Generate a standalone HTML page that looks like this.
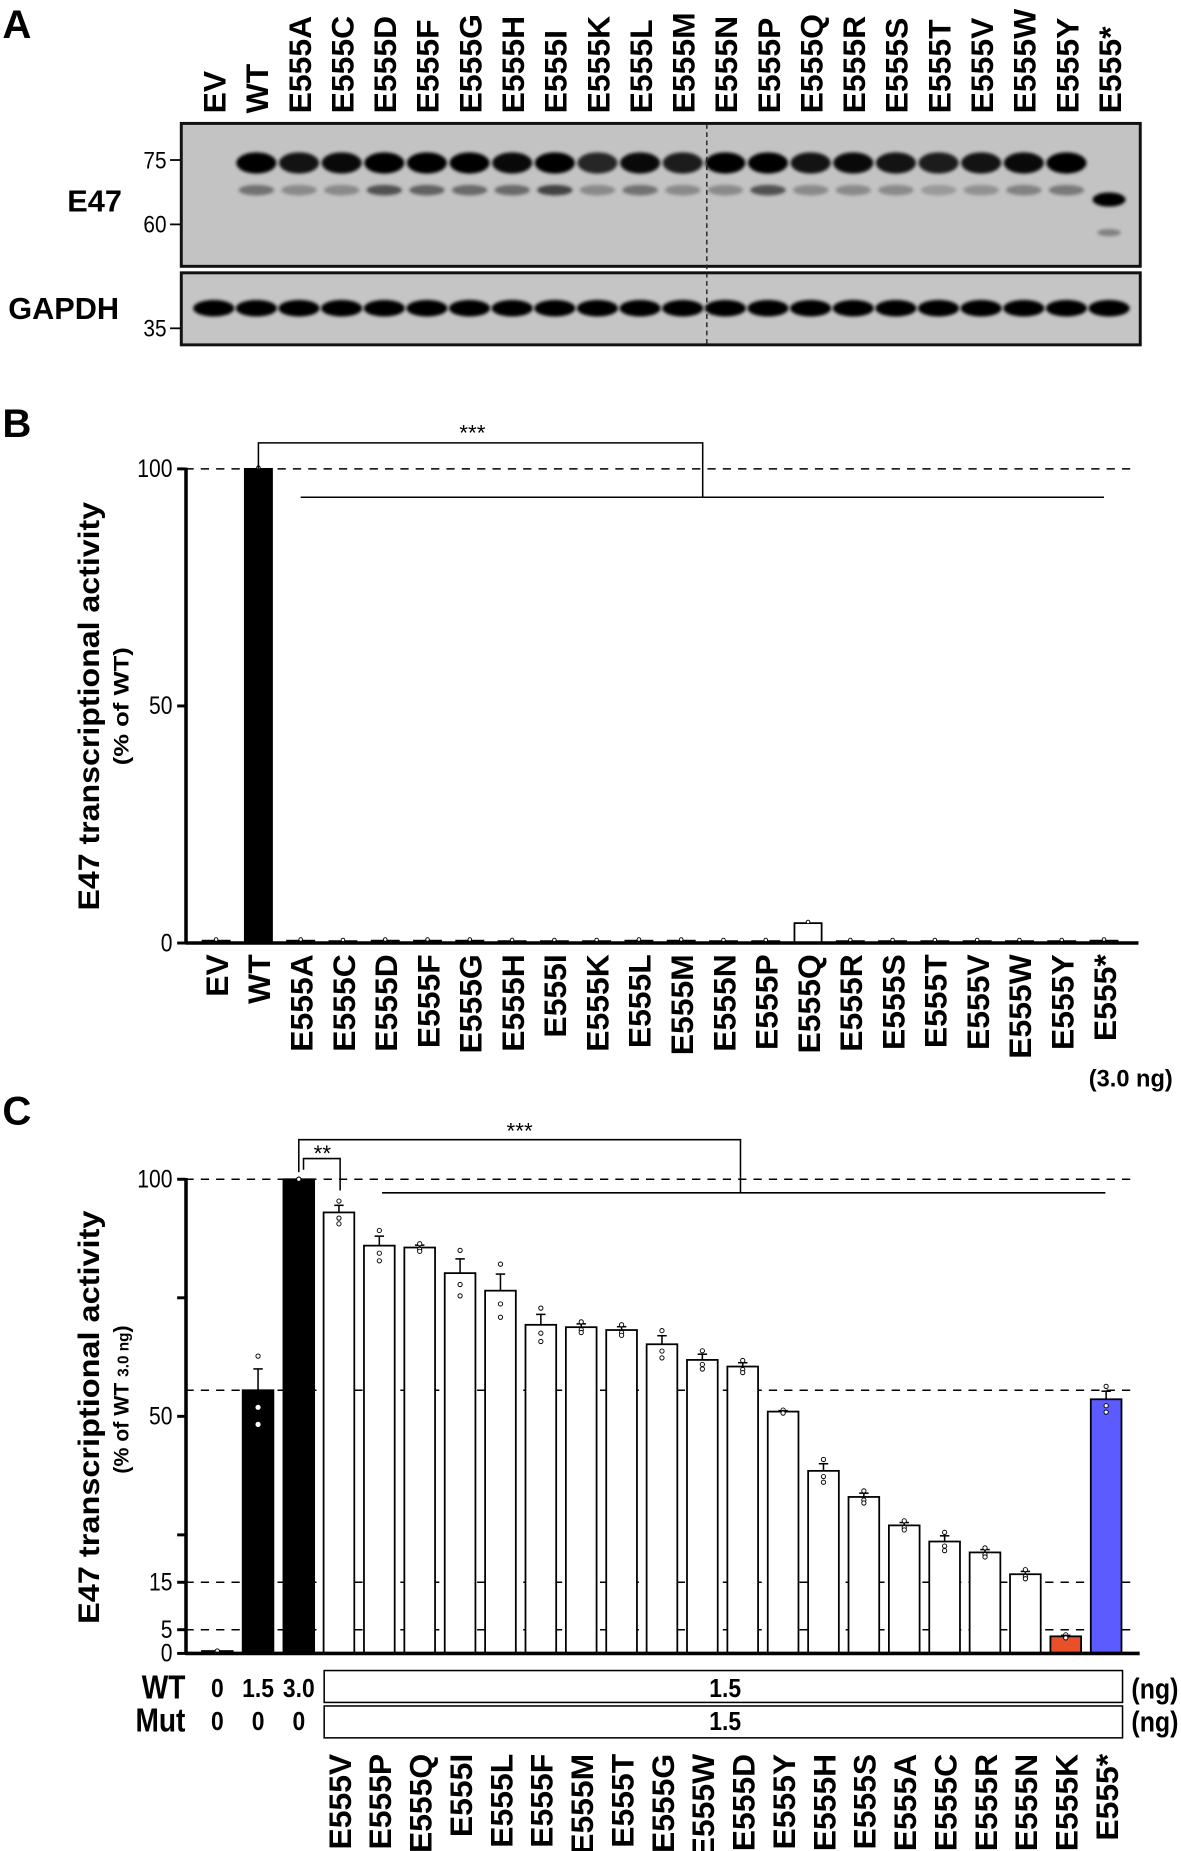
<!DOCTYPE html>
<html><head><meta charset="utf-8">
<style>
html,body{margin:0;padding:0;background:#fff;}
svg{display:block;}
text{font-family:"Liberation Sans",Arial,sans-serif;}
</style></head>
<body>
<svg id="fig" width="1181" height="1851" viewBox="0 0 1000 1567.3" preserveAspectRatio="none" xmlns="http://www.w3.org/2000/svg">
<defs>
<filter id="blur" x="-50%" y="-50%" width="200%" height="200%"><feGaussianBlur stdDeviation="2.2"/></filter>
<filter id="blur2" x="-50%" y="-50%" width="200%" height="200%"><feGaussianBlur stdDeviation="1.4"/></filter>
</defs>
<g id="panelA"></g>
<g id="panelB"></g>
<g id="panelC"></g>
</svg>
<script>
// ---------- data ----------
const blotLanes = ["EV","WT","E555A","E555C","E555D","E555F","E555G","E555H","E555I","E555K","E555L","E555M","E555N","E555P","E555Q","E555R","E555S","E555T","E555V","E555W","E555Y","E555*"];
const bCategories = ["EV","WT","E555A","E555C","E555D","E555F","E555G","E555H","E555I","E555K","E555L","E555M","E555N","E555P","E555Q","E555R","E555S","E555T","E555V","E555W","E555Y","E555*"];
const bValues = [0.5,100,0.5,0.4,0.5,0.5,0.5,0.4,0.4,0.4,0.5,0.5,0.4,0.4,4.2,0.4,0.4,0.4,0.4,0.4,0.4,0.5];
const bTicks = [0,50,100];
const cCategories = ["ctrl0","WT1.5","WT3.0","E555V","E555P","E555Q","E555I","E555L","E555F","E555M","E555T","E555G","E555W","E555D","E555Y","E555H","E555S","E555A","E555C","E555R","E555N","E555K","E555*"];
const cValues = [0.5,55.5,100,93,86,85.6,80.2,76.5,69.3,68.8,68.2,65.2,61.9,60.5,51,38.5,33,27,23.6,21.3,16.7,3.6,53.6];
const cErrors = [0,4.5,0,1.5,2,0.5,3,3.5,2.2,0.7,0.7,1.8,1.2,0.8,0.2,1.5,0.8,0.6,1.2,0.6,0.6,0.2,1.7];
const cTicks = [0,5,15,50,100];
const cMinorTicks = [25,75];
const cRefLines = [100,55.5,15,5];
const wtAmounts = ["0","1.5","3.0"];
const mutAmounts = ["0","0","0"];

const NS="http://www.w3.org/2000/svg";
function mk(tag, attrs, parent, txt){
  const e=document.createElementNS(NS,tag);
  for(const k in attrs) e.setAttribute(k,attrs[k]);
  if(txt!==undefined) e.textContent=txt;
  parent.appendChild(e);
  return e;
}
const A=document.getElementById('panelA'), B=document.getElementById('panelB'), C=document.getElementById('panelC');

// ---------- Panel A ----------
let t=mk('text',{x:2,y:32,'font-size':34,'font-weight':'bold'},A,'A');


const laneX=i=>181+36.1*i;
blotLanes.forEach((l,i)=>{
  const tx=mk('text',{transform:`translate(${laneX(i)+10},96) rotate(-90)`,'font-size':27,'font-weight':'bold'},A,l);
  
  
});
let r=mk('rect',{x:153.5,y:104.5,width:812,height:121,fill:'#c3c3c3',stroke:'#111','stroke-width':2.5},A);


r=mk('rect',{x:153.5,y:231,width:812,height:61,fill:'#c5c5c5',stroke:'#111','stroke-width':2.5},A);


const mainInt=[0,1,0.9,0.95,1,1,1,0.95,1,0.8,0.95,0.85,1,1,0.9,0.95,0.9,0.85,0.9,0.95,1,0];
const lowInt=[0,0.5,0.35,0.35,0.7,0.6,0.55,0.55,0.8,0.35,0.5,0.35,0.35,0.7,0.35,0.35,0.35,0.25,0.3,0.4,0.45,0];
blotLanes.forEach((l,i)=>{
  const x=laneX(i);
  if(mainInt[i]>0){
    const b=mk('ellipse',{cx:x,cy:138,rx:17,ry:9,fill:'#000',opacity:mainInt[i],filter:'url(#blur2)'},A);
    
    
    mk('ellipse',{cx:x,cy:161,rx:15,ry:4.5,fill:'#222',opacity:lowInt[i],filter:'url(#blur2)'},A);
  }
  if(i===21){
    mk('ellipse',{cx:x,cy:169,rx:14,ry:6,fill:'#000',filter:'url(#blur2)'},A);
    mk('ellipse',{cx:x,cy:197,rx:10,ry:3,fill:'#555',opacity:0.6,filter:'url(#blur2)'},A);
  }
  const g=mk('ellipse',{cx:x,cy:261,rx:17.5,ry:7,fill:'#000',filter:'url(#blur2)'},A);
  
  
});
mk('line',{x1:598.5,y1:105,x2:598.5,y2:292,stroke:'#222','stroke-width':1.2,'stroke-dasharray':'4,3'},A);
[[75,135.5],[60,190],[35,278]].forEach(([v,y])=>{
  mk('line',{x1:144,y1:y,x2:153,y2:y,stroke:'#000','stroke-width':1.5},A);
  const m=mk('text',{x:0,y:0,transform:`translate(141,${y+7}) scale(0.88,1)`,'font-size':20,'text-anchor':'end'},A,String(v));
  
  
});
t=mk('text',{x:57,y:179,'font-size':26,'font-weight':'bold'},A,'E47');


t=mk('text',{x:7,y:270,'font-size':26,'font-weight':'bold'},A,'GAPDH');



// ---------- Panel B ----------
t=mk('text',{x:2,y:370,'font-size':34,'font-weight':'bold'},B,'B');


const bY=v=>798.5-v*4.015;
const bX=i=>183+35.8*i;
mk('line',{x1:157,y1:bY(100),x2:963,y2:bY(100),stroke:'#000','stroke-width':1.3,'stroke-dasharray':'7,6'},B);
bCategories.forEach((c,i)=>{
  const bar=mk('rect',{x:bX(i)-11.5,y:bY(bValues[i]),width:23,height:bY(0)-bY(bValues[i]),fill:i===1?'#000':'#fff',stroke:'#000','stroke-width':1.5},B);
  
  
  mk('circle',{cx:bX(i),cy:bY(bValues[i])-1,r:1.5,fill:'#fff',stroke:'#000','stroke-width':0.8},B);
  const lb=mk('text',{transform:`translate(${bX(i)+10},808) rotate(-90)`,'font-size':27,'font-weight':'bold','text-anchor':'end'},B,c);
  
  
});
mk('line',{x1:157,y1:bY(0),x2:964,y2:bY(0),stroke:'#000','stroke-width':3},B);
mk('line',{x1:157.5,y1:bY(0)+1,x2:157.5,y2:bY(100)-1,stroke:'#000','stroke-width':3},B);
bTicks.forEach(v=>{
  mk('line',{x1:150,y1:bY(v),x2:157,y2:bY(v),stroke:'#000','stroke-width':2.5},B);
  const tl=mk('text',{x:0,y:0,transform:`translate(146,${bY(v)+7}) scale(0.85,1)`,'font-size':21,'text-anchor':'end'},B,String(v));
  
  
});
mk('polyline',{points:`${bX(1)},${bY(100)} ${bX(1)},375 595,375 595,421`,fill:'none',stroke:'#000','stroke-width':1.3},B);
mk('line',{x1:bX(2),y1:421,x2:bX(21),y2:421,stroke:'#000','stroke-width':1.3},B);
t=mk('text',{x:400,y:373,'font-size':19,'text-anchor':'middle'},B,'***');


t=mk('text',{transform:'translate(84,598) rotate(-90)','font-size':25,'font-weight':'bold','text-anchor':'middle',textLength:346,lengthAdjust:'spacingAndGlyphs'},B,'E47 transcriptional activity');


t=mk('text',{transform:'translate(109,598) rotate(-90)','font-size':18,'font-weight':'bold','text-anchor':'middle',textLength:100,lengthAdjust:'spacingAndGlyphs'},B,'(% of WT)');


t=mk('text',{x:993,y:920,'font-size':20,'font-weight':'bold','text-anchor':'end'},B,'(3.0 ng)');



// ---------- Panel C ----------
t=mk('text',{x:2,y:952,'font-size':34,'font-weight':'bold'},C,'C');


const cY=v=>1400-v*4.015;
const cX=i=>i<3?[184,218.5,253][i]:287+34.19*(i-3);
cRefLines.forEach(v=>{
  mk('line',{x1:157,y1:cY(v),x2:960,y2:cY(v),stroke:'#000','stroke-width':1.3,'stroke-dasharray':'7,6'},C);
});
cCategories.forEach((c,i)=>{
  const w=26;
  let fill='#fff';
  if(i===1||i===2) fill='#000';
  if(c==='E555K') fill='#e8502a';
  if(c==='E555*') fill='#5b5bff';
  const bar=mk('rect',{x:cX(i)-w/2,y:cY(cValues[i]),width:w,height:cY(0)-cY(cValues[i]),fill:fill,stroke:'#000','stroke-width':1.5},C);
  
  
  if(cErrors[i]>0){
    const top=cY(cValues[i]+cErrors[i]);
    mk('line',{x1:cX(i),y1:top,x2:cX(i),y2:cY(cValues[i]),stroke:'#000','stroke-width':1.3},C);
    mk('line',{x1:cX(i)-4,y1:top,x2:cX(i)+4,y2:top,stroke:'#000','stroke-width':1.3},C);
  }
  [cValues[i]+cErrors[i]*1.6,cValues[i]-cErrors[i]*0.8,cValues[i]-cErrors[i]*1.6].forEach(dv=>{
    mk('circle',{cx:cX(i),cy:cY(dv),r:1.8,fill:'#fff',stroke:(i===1||i===2)&&dv<cValues[i]?'#fff':'#000','stroke-width':0.8},C);
  });
  if(i>=3){
    const lb=mk('text',{transform:`translate(${cX(i)+10},1485) rotate(-90)`,'font-size':27,'font-weight':'bold','text-anchor':'end'},C,c);
    
    
  }
});
mk('line',{x1:157,y1:cY(0),x2:965,y2:cY(0),stroke:'#000','stroke-width':3},C);
mk('line',{x1:157.5,y1:cY(0)+1,x2:157.5,y2:cY(100)-1,stroke:'#000','stroke-width':3},C);
cTicks.concat(cMinorTicks).forEach(v=>{
  mk('line',{x1:150,y1:cY(v),x2:157,y2:cY(v),stroke:'#000','stroke-width':2.5},C);
});
cTicks.forEach(v=>{
  const tl=mk('text',{x:0,y:0,transform:`translate(146,${cY(v)+7}) scale(0.85,1)`,'font-size':21,'text-anchor':'end'},C,String(v));
  
  
});
mk('polyline',{points:`${cX(2)},${cY(100)-6} ${cX(2)},965 627,965 627,1010`,fill:'none',stroke:'#000','stroke-width':1.3},C);
mk('polyline',{points:`257,${cY(100)-8} 257,981 288,981 288,1008`,fill:'none',stroke:'#000','stroke-width':1.3},C);
mk('line',{x1:323.5,y1:1010,x2:936,y2:1010,stroke:'#000','stroke-width':1.3},C);
t=mk('text',{x:440,y:964,'font-size':19,'text-anchor':'middle'},C,'***');


t=mk('text',{x:273,y:983,'font-size':19,'text-anchor':'middle'},C,'**');


t=mk('text',{transform:'translate(84,1200) rotate(-90)','font-size':25,'font-weight':'bold','text-anchor':'middle',textLength:350,lengthAdjust:'spacingAndGlyphs'},C,'E47 transcriptional activity');


t=mk('text',{transform:'translate(109,1185) rotate(-90)','font-size':18,'font-weight':'bold','text-anchor':'middle'},C);


mk('tspan',{},t,'(% of WT ');
mk('tspan',{'font-size':13},t,'3.0 ng');
mk('tspan',{},t,')');
[['WT',1430,wtAmounts,1414.5],['Mut',1458,mutAmounts,1444.5]].forEach(([lab,y,arr,by])=>{
  const rl=mk('text',{x:0,y:0,transform:`translate(157,${y+8}) scale(0.85,1)`,'font-size':28,'font-weight':'bold','text-anchor':'end'},C,lab);
  
  
  arr.forEach((a,i)=>{
    const tv=mk('text',{x:0,y:0,transform:`translate(${cX(i)},${y+7}) scale(0.88,1)`,'font-size':22,'font-weight':'bold','text-anchor':'middle'},C,a);
    
    
  });
  const bx=mk('rect',{x:274.5,y:by,width:676,height:27,fill:'#fff',stroke:'#000','stroke-width':1.3},C);
  
  
  const bt=mk('text',{x:0,y:0,transform:`translate(614,${y+7}) scale(0.88,1)`,'font-size':22,'font-weight':'bold','text-anchor':'middle'},C,'1.5');
  
  
  const ng=mk('text',{x:0,y:0,transform:`translate(958,${y+8}) scale(0.88,1)`,'font-size':24,'font-weight':'bold'},C,'(ng)');
  
  
});
</script>
</body></html>
